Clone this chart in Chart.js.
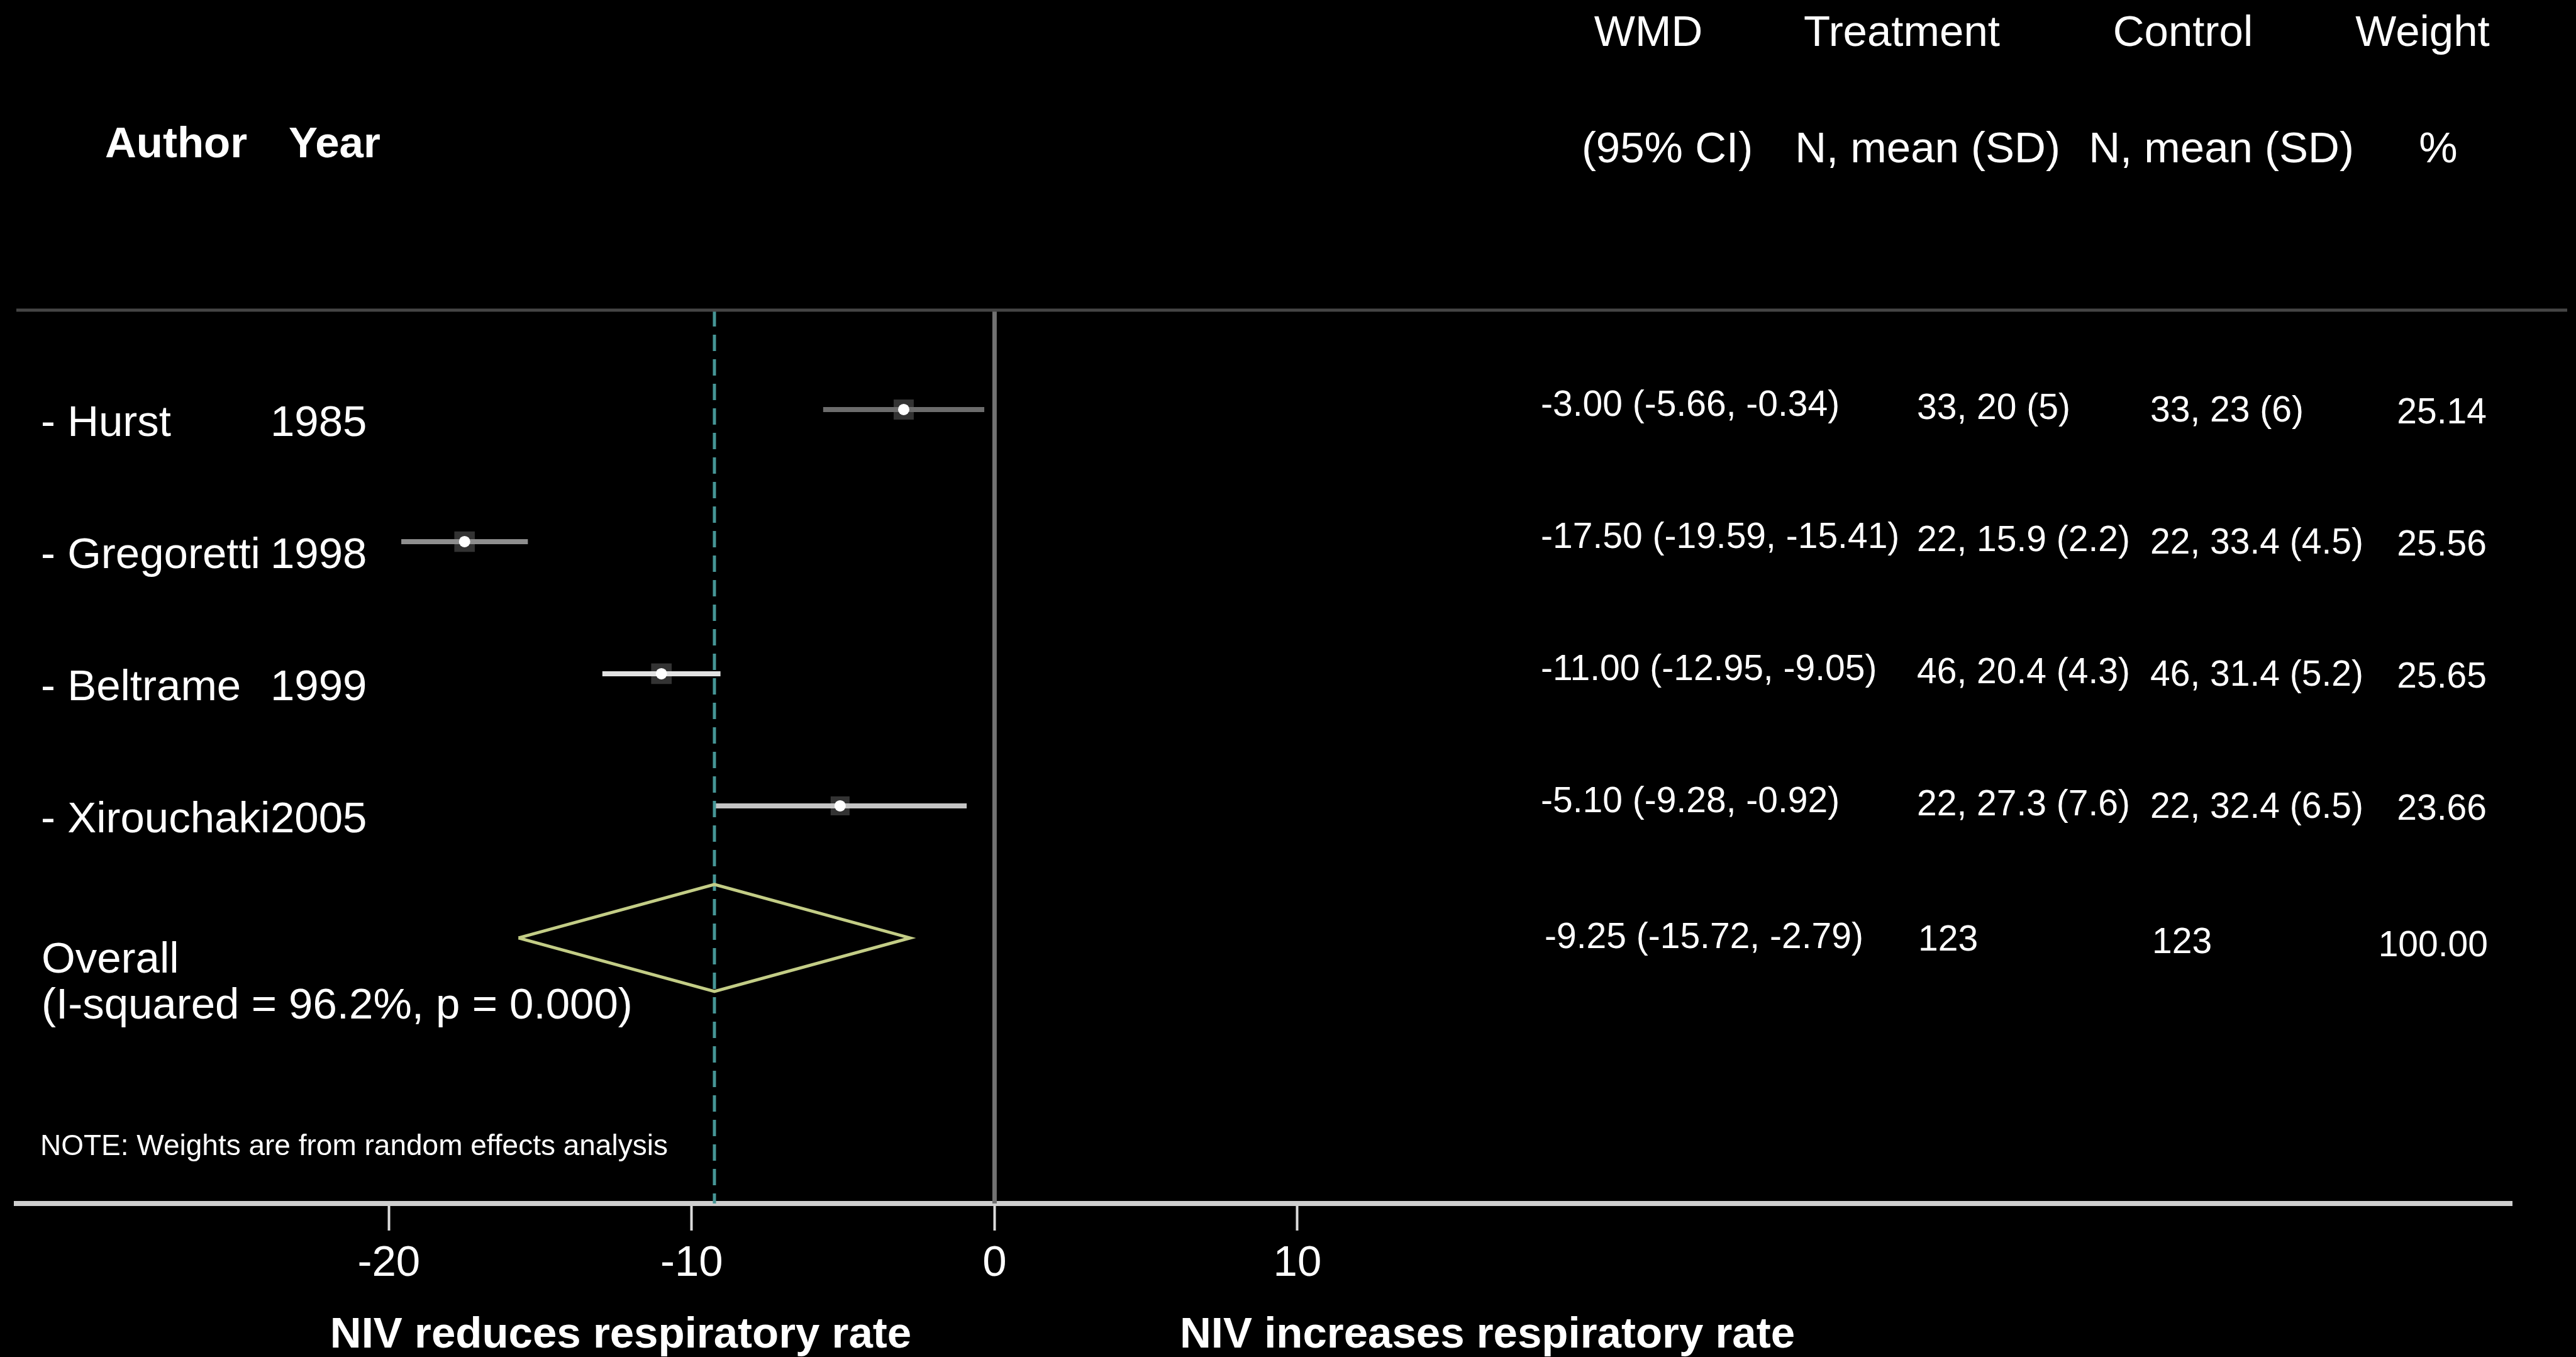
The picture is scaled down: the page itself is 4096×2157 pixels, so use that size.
<!DOCTYPE html>
<html>
<head>
<meta charset="utf-8">
<title>NIV and respiratory rate - forest plot</title>
<script src="https://cdn.jsdelivr.net/npm/chart.js@4.4.1/dist/chart.umd.min.js"></script>
<style>
  html, body { margin: 0; padding: 0; background: #000; overflow: hidden; }
  canvas { display: block; }
</style>
</head>
<body>
<canvas id="forest" width="4096" height="2157"></canvas>
<script>
// one entry per study, top to bottom
const authors = ['- Hurst', '- Gregoretti', '- Beltrame', '- Xirouchaki'];
const years = ['1985', '1998', '1999', '2005'];
const wmd = [-3.00, -17.50, -11.00, -5.10];
const ciLow = [-5.66, -19.59, -12.95, -9.28];
const ciHigh = [-0.34, -15.41, -9.05, -0.92];
const treatment = ['33, 20 (5)', '22, 15.9 (2.2)', '46, 20.4 (4.3)', '22, 27.3 (7.6)'];
const control = ['33, 23 (6)', '22, 33.4 (4.5)', '46, 31.4 (5.2)', '22, 32.4 (6.5)'];
const weights = [25.14, 25.56, 25.65, 23.66];

// pooled (random effects) row
const overallWmd = -9.25;
const overallLow = -15.72;
const overallHigh = -2.79;
const overallTreatmentN = '123';
const overallControlN = '123';
const overallWeight = 100.00;
const overallLabel = ['Overall', '(I-squared = 96.2%, p = 0.000)'];

const xTicks = [-20, -10, 0, 10];
const xTickLabels = ['-20', '-10', '0', '10'];

document.addEventListener('DOMContentLoaded', () => {

    const fontFamily = '"Liberation Sans", Arial, Helvetica, sans-serif';
    const overallRow = authors.length + 1;
    const yMin = 0.248, yMax = 7.01;

    // scan-like shades of the CI bars in the original
    const ciColors = ['#6c6c6c', '#8e8e8e', '#e2e2e2', '#c4c4c4'];

    const datasets = [];

    // weight boxes
    datasets.push({
        data: wmd.map((v, i) => ({ x: v, y: i + 1 })),
        pointStyle: 'rect',
        pointRadius: weights.map(w => w * 0.9),
        backgroundColor: '#333333',
        borderWidth: 0,
        order: 6
    });

    // confidence intervals
    wmd.forEach((v, i) => {
        datasets.push({
            data: [{ x: ciLow[i], y: i + 1 }, { x: ciHigh[i], y: i + 1 }],
            showLine: true,
            borderColor: ciColors[i],
            borderWidth: 8,
            pointRadius: 0,
            order: 4
        });
    });

    // point estimates
    datasets.push({
        data: wmd.map((v, i) => ({ x: v, y: i + 1 })),
        pointStyle: 'circle',
        pointRadius: 9,
        backgroundColor: '#ffffff',
        borderWidth: 0,
        order: 1
    });

    // line of no effect
    datasets.push({
        data: [{ x: 0, y: yMin }, { x: 0, y: yMax }],
        showLine: true,
        borderColor: '#727272',
        borderWidth: 7,
        pointRadius: 0,
        order: 5
    });

    // pooled estimate, dashed
    datasets.push({
        data: [{ x: overallWmd, y: yMin }, { x: overallWmd, y: yMax }],
        showLine: true,
        borderColor: '#469696',
        borderWidth: 5,
        borderDash: [26, 13],
        pointRadius: 0,
        order: 3
    });

    // pooled diamond
    const half = 0.405;
    datasets.push({
        data: [
            { x: overallLow, y: overallRow },
            { x: overallWmd, y: overallRow - half },
            { x: overallHigh, y: overallRow },
            { x: overallWmd, y: overallRow + half },
            { x: overallLow, y: overallRow }
        ],
        showLine: true,
        borderColor: '#c3cd86',
        borderWidth: 5,
        pointRadius: 0,
        tension: 0,
        order: 2
    });

    function text(ctx, str, x, y, size, align, bold) {
        ctx.font = (bold ? 'bold ' : '') + size + 'px ' + fontFamily;
        ctx.textAlign = align || 'left';
        ctx.textBaseline = 'alphabetic';
        // y is the middle of the capitals
        ctx.fillText(str, x, y + size * 0.358);
    }

    const tablePlugin = {
        id: 'forestTable',
        afterDraw(chart) {
            const ctx = chart.ctx;
            const yScale = chart.scales.y;
            const area = chart.chartArea;
            ctx.save();

            // rule under the header
            ctx.strokeStyle = '#454545';
            ctx.lineWidth = 5;
            ctx.beginPath();
            ctx.moveTo(area.left, area.top);
            ctx.lineTo(4082, area.top);
            ctx.stroke();

            ctx.fillStyle = '#ffffff';

            // headers
            text(ctx, 'Author', 167, 225, 69, 'left', true);
            text(ctx, 'Year', 459, 225, 69, 'left', true);
            text(ctx, 'WMD', 2621, 48, 69, 'center');
            text(ctx, 'Treatment', 3024, 48, 69, 'center');
            text(ctx, 'Control', 3471, 48, 69, 'center');
            text(ctx, 'Weight', 3852, 48, 69, 'center');
            text(ctx, '(95% CI)', 2651, 233, 69, 'center');
            text(ctx, 'N, mean (SD)', 3065, 233, 69, 'center');
            text(ctx, 'N, mean (SD)', 3532, 233, 69, 'center');
            text(ctx, '%', 3877, 233, 69, 'center');

            // study rows
            authors.forEach((a, i) => {
                const y = yScale.getPixelForValue(i + 1);
                text(ctx, a, 65, y + 17, 69);
                text(ctx, years[i], 430, y + 17, 69);
                const ci = wmd[i].toFixed(2) + ' (' + ciLow[i].toFixed(2) + ', ' + ciHigh[i].toFixed(2) + ')';
                text(ctx, ci, 2450, y - 10, 57);
                text(ctx, treatment[i], 3048, y - 5, 57);
                text(ctx, control[i], 3419, y - 1, 57);
                text(ctx, weights[i].toFixed(2), 3954, y + 2, 57, 'right');
            });

            // pooled row
            const yo = yScale.getPixelForValue(overallRow);
            text(ctx, overallLabel[0], 66, yo + 30, 69);
            text(ctx, overallLabel[1], 66, yo + 103, 69);
            const pooled = overallWmd.toFixed(2) + ' (' + overallLow.toFixed(2) + ', ' + overallHigh.toFixed(2) + ')';
            text(ctx, pooled, 2456, yo - 4, 57);
            text(ctx, overallTreatmentN, 3050, yo, 57);
            text(ctx, overallControlN, 3422, yo + 4, 57);
            text(ctx, overallWeight.toFixed(2), 3956, yo + 9, 57, 'right');

            text(ctx, 'NOTE: Weights are from random effects analysis', 64, 1820, 46);

            // axis captions
            text(ctx, 'NIV reduces respiratory rate', 987, 2117, 69, 'center', true);
            text(ctx, 'NIV increases respiratory rate', 2365, 2117, 69, 'center', true);

            ctx.restore();
        }
    };

    new Chart(document.getElementById('forest'), {
        type: 'scatter',
        data: { datasets: datasets },
        options: {
            responsive: false,
            animation: false,
            devicePixelRatio: 1,
            layout: { padding: { left: 26, right: 102, top: 493, bottom: 0 } },
            plugins: {
                legend: { display: false },
                tooltip: { enabled: false }
            },
            scales: {
                x: {
                    type: 'linear',
                    min: -32.3,
                    max: 50.1,
                    afterBuildTicks: scale => {
                        scale.ticks = xTicks.map(v => ({ value: v }));
                    },
                    afterFit: scale => {
                        scale.height = 244;
                    },
                    border: { display: true, color: '#cfcfcf', width: 8 },
                    grid: {
                        drawOnChartArea: false,
                        drawTicks: true,
                        tickLength: 43,
                        tickWidth: 4,
                        tickColor: '#dcdcdc'
                    },
                    ticks: {
                        autoSkip: false,
                        maxRotation: 0,
                        padding: 12,
                        color: '#ffffff',
                        font: { family: fontFamily, size: 69 },
                        callback: value => xTickLabels[xTicks.indexOf(value)]
                    }
                },
                y: {
                    type: 'linear',
                    reverse: true,
                    min: yMin,
                    max: yMax,
                    display: false
                }
            }
        },
        plugins: [tablePlugin]
    });
});
</script>
</body>
</html>
